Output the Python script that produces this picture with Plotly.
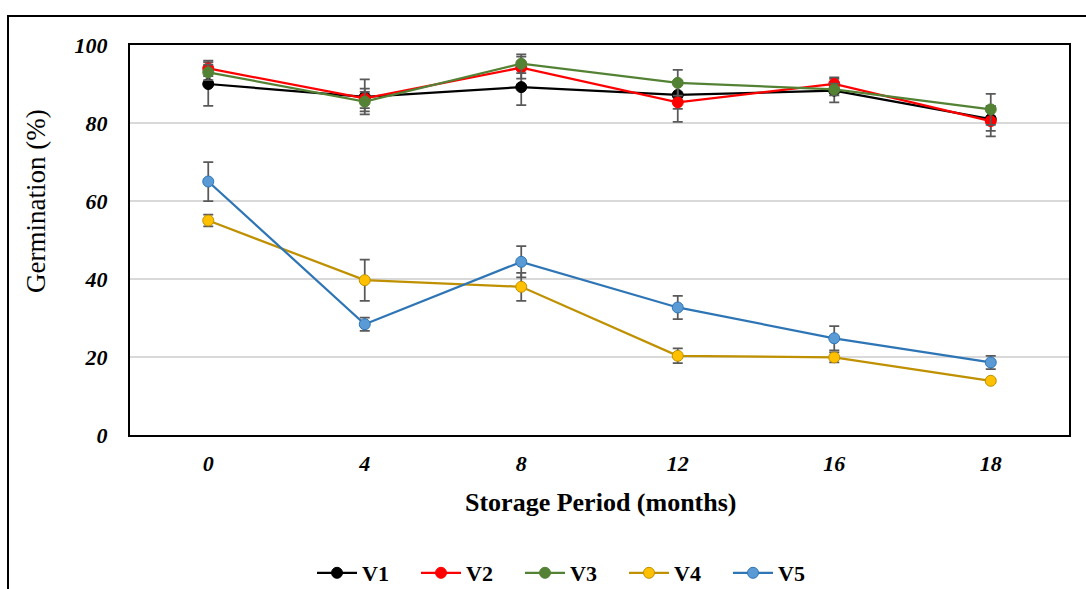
import plotly.graph_objects as go

# Storage period categories (months)
months = ["0", "4", "8", "12", "16", "18"]

# Mean germination (%) per variety
v1 = [90.0, 86.7, 89.2, 87.2, 88.3, 81.0]
v2 = [94.0, 86.3, 94.2, 85.3, 90.0, 80.5]
v3 = [93.0, 85.5, 95.2, 90.3, 88.6, 83.5]
v4 = [55.0, 39.7, 38.0, 20.3, 19.9, 13.9]
v5 = [65.0, 28.4, 44.4, 32.7, 24.8, 18.6]

# Standard errors
e1 = [5.6, 4.5, 4.6, 3.6, 3.0, 3.0]
e2 = [2.0, 2.5, 2.8, 5.0, 1.7, 3.9]
e3 = [2.0, 2.5, 2.4, 3.3, 1.5, 4.0]
e4 = [1.5, 5.3, 3.6, 1.9, 1.3, 0.5]
e5 = [5.0, 1.7, 4.0, 3.0, 3.1, 1.7]

# Y tick values and labels
y_ticks = [0, 20, 40, 60, 80, 100]
y_labels = ["0", "20", "40", "60", "80", "100"]

series = [
    ("V1", v1, e1, "#000000", "#000000", "#000000"),
    ("V2", v2, e2, "#FF0000", "#FF0000", "#FF0000"),
    ("V3", v3, e3, "#548235", "#548235", "#548235"),
    ("V4", v4, e4, "#BF9000", "#FFC000", "#BF9000"),
    ("V5", v5, e5, "#2E75B6", "#5B9BD5", "#2E75B6"),
]

fig = go.Figure()
for name, vals, errs, line_c, fill_c, edge_c in series:
    fig.add_trace(go.Scatter(
        x=months, y=vals, name=name, mode="lines+markers",
        line=dict(color=line_c, width=2.25),
        marker=dict(size=11, color=fill_c, line=dict(color=edge_c, width=1)),
        error_y=dict(type="data", array=errs, visible=True,
                     color="#595959", thickness=1.75, width=5),
    ))

# Plot area geometry in pixels
W, H = 1086, 589
L, R, T, B = 130, 17, 45, 154
pw, ph = W - L - R, H - T - B

def px_x(p):
    return (p - L) / pw

def px_y(p):
    return (H - B - p) / ph

SERIF = "Times New Roman, Liberation Serif, serif"
tick_font = dict(family=SERIF, size=22, color="#000000",
                 weight="bold", style="italic")

fig.update_layout(
    width=W, height=H,
    margin=dict(l=L, r=R, t=T, b=B, autoexpand=False),
    paper_bgcolor="white", plot_bgcolor="white",
    showlegend=True,
    legend=dict(
        orientation="h", x=px_x(312), y=px_y(573),
        xanchor="left", yanchor="middle",
        font=dict(family=SERIF, size=22, color="#000000", weight="bold"),
        entrywidth=49, entrywidthmode="pixels", itemwidth=40,
        tracegroupgap=0,
    ),
    xaxis=dict(
        type="category", range=[-0.5, 5.5],
        showline=True, linecolor="#000000", linewidth=2, mirror=True,
        showgrid=False, ticks="outside", ticklen=8, tickcolor="rgba(0,0,0,0)",
        tickfont=tick_font,
    ),
    yaxis=dict(
        range=[0, 100], tickvals=y_ticks, ticktext=y_labels,
        showline=True, linecolor="#000000", linewidth=2, mirror=True,
        showgrid=True, gridcolor="#D9D9D9", gridwidth=1.5, zeroline=False,
        ticks="outside", ticklen=16, tickcolor="rgba(0,0,0,0)",
        tickfont=tick_font,
    ),
    annotations=[
        dict(text="Storage Period (months)", xref="paper", yref="paper",
             x=px_x(601), y=px_y(502), xanchor="center", yanchor="middle",
             showarrow=False,
             font=dict(family=SERIF, size=26, color="#000000", weight="bold")),
        dict(text="Germination (%)", xref="paper", yref="paper",
             x=px_x(36), y=px_y(201), xanchor="center", yanchor="middle",
             textangle=-90, showarrow=False,
             font=dict(family=SERIF, size=27, color="#000000")),
    ],
    shapes=[dict(
        type="rect", xref="paper", yref="paper",
        x0=px_x(8), x1=px_x(1092), y0=px_y(600), y1=px_y(16),
        line=dict(color="#000000", width=2), fillcolor="rgba(0,0,0,0)",
        layer="below",
    )],
)

fig.write_html("out.html")
